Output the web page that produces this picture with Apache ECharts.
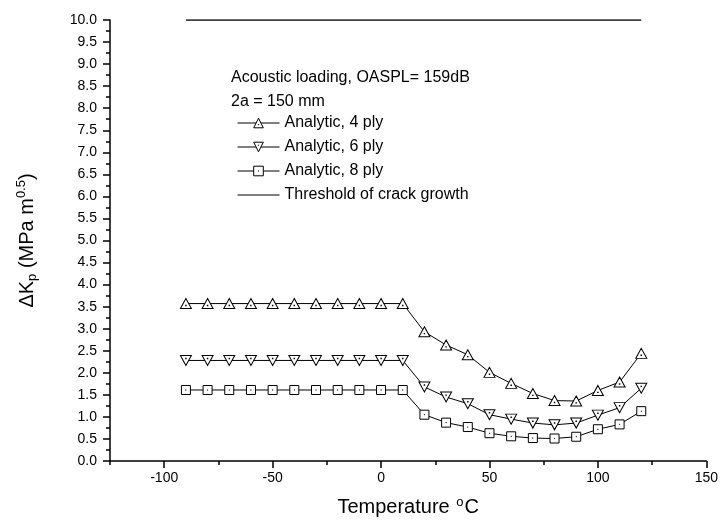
<!DOCTYPE html>
<html>
<head>
<meta charset="utf-8">
<script src="https://cdn.jsdelivr.net/npm/echarts@6/dist/echarts.min.js"></script>
<style>html,body{margin:0;padding:0;background:#fff}#c{width:721px;height:528px}</style>
</head>
<body>
<div id="c"></div>
<script>
var temps = [-90,-80,-70,-60,-50,-40,-30,-20,-10,0,10,20,30,40,50,60,70,80,90,100,110,120];
var ply4 = [3.57,3.57,3.57,3.57,3.57,3.57,3.57,3.57,3.57,3.57,3.57,2.93,2.63,2.41,2.01,1.76,1.53,1.37,1.36,1.60,1.79,2.44];
var ply6 = [2.28,2.28,2.28,2.28,2.28,2.28,2.28,2.28,2.28,2.28,2.28,1.68,1.45,1.30,1.05,0.95,0.86,0.82,0.86,1.04,1.21,1.65];
var ply8 = [1.61,1.61,1.61,1.61,1.61,1.61,1.61,1.61,1.61,1.61,1.61,1.05,0.87,0.77,0.63,0.56,0.52,0.51,0.55,0.72,0.83,1.13];
var thresholdX = [-90, 120];
var thresholdY = [10, 10];
var xMajorTicks = [-100, -50, 0, 50, 100, 150];
var xMinorTicks = [-125, -75, -25, 25, 75, 125];
var seriesNames = ['Analytic, 4 ply','Analytic, 6 ply','Analytic, 8 ply','Threshold of crack growth'];

function pairs(xs, ys){ return xs.map(function(x,i){ return [x, ys[i]]; }); }

var triUp = 'path://M5,0 L10,9 L0,9 Z M4.8,6 L5.2,6 L5.2,6.4 L4.8,6.4 Z';
var triDown = 'path://M0,0 L10,0 L5,9 Z M4.8,2.6 L5.2,2.6 L5.2,3 L4.8,3 Z';
var sq = 'path://M0,0 L10,0 L10,10 L0,10 Z M4.8,4.8 L5.2,4.8 L5.2,5.2 L4.8,5.2 Z';

function lineSeries(name, data, sym, size){
  return {
    name: name, type: 'line', data: data,
    symbol: sym, symbolSize: size, showAllSymbol: true,
    lineStyle: {color: '#000', width: 1},
    itemStyle: {color: '#fff', borderColor: '#000', borderWidth: 1},
    emphasis: {disabled: true}, animation: false
  };
}

var FONT = 'Liberation Sans, Arial';
var chart = echarts.init(document.getElementById('c'), null, {renderer: 'canvas'});
chart.setOption({
  backgroundColor: '#fff',
  animation: false,
  grid: {left: 110, right: 14, top: 20, bottom: 67, containLabel: false},
  title: {
    text: 'Acoustic loading, OASPL= 159dB\n2a = 150 mm',
    left: 226, top: 61,
    textStyle: {fontFamily: FONT, fontSize: 16, fontWeight: 'normal', color: '#000', lineHeight: 24}
  },
  legend: {
    orient: 'vertical', left: 232, top: 110, itemGap: 8,
    itemWidth: 42, itemHeight: 12,
    data: [
      {name: seriesNames[0]},
      {name: seriesNames[1]},
      {name: seriesNames[2]},
      {name: seriesNames[3], itemStyle: {opacity: 0}}
    ],
    itemStyle: {borderWidth: 1, borderColor: '#000'},
    lineStyle: {width: 1, color: '#000'},
    textStyle: {fontFamily: FONT, fontSize: 16, color: '#000'},
    selectedMode: false
  },
  xAxis: [{
    type: 'value', min: -125, max: 150,
    axisLine: {onZero: false, lineStyle: {color: '#000', width: 1.5}},
    axisTick: {show: true, length: 7, customValues: xMajorTicks, lineStyle: {color: '#000', width: 1.5}},
    splitLine: {show: false},
    axisLabel: {
      color: '#000', fontFamily: FONT, fontSize: 14, margin: 10, customValues: xMajorTicks
    },
    name: '{a|Temperature }{s|o}{a|C}',
    nameLocation: 'middle', nameGap: 35,
    nameTextStyle: {rich: {
      a: {fontFamily: FONT, fontSize: 20, color: '#000', verticalAlign: 'bottom'},
      s: {fontFamily: FONT, fontSize: 13, color: '#000', verticalAlign: 'top', padding: [0,1,8,1]}
    }}
  }, {
    type: 'value', min: -125, max: 150, position: 'bottom', gridIndex: 0,
    axisLine: {show: false, onZero: false},
    axisTick: {show: true, length: 4, customValues: xMinorTicks, lineStyle: {color: '#000', width: 1.5}},
    axisLabel: {show: false},
    splitLine: {show: false}
  }],
  yAxis: {
    type: 'value', min: 0, max: 10, interval: 0.5,
    axisLine: {onZero: false, lineStyle: {color: '#000', width: 1.5}},
    axisTick: {show: true, length: 7, lineStyle: {color: '#000', width: 1.5}},
    minorTick: {show: true, splitNumber: 2, length: 4, lineStyle: {color: '#000', width: 1.5}},
    splitLine: {show: false},
    axisLabel: {
      color: '#000', fontFamily: FONT, fontSize: 14, margin: 13,
      formatter: function(v){ return v.toFixed(1); }
    },
    name: '{a|ΔK}{b|p}{a| (MPa m}{c|0.5}{a|)}',
    nameLocation: 'middle', nameRotate: 90, nameGap: 70,
    nameTextStyle: {rich: {
      a: {fontFamily: FONT, fontSize: 20, color: '#000'},
      b: {fontFamily: FONT, fontSize: 13, color: '#000', padding: [10,0,0,0]},
      c: {fontFamily: FONT, fontSize: 13, color: '#000', padding: [0,0,12,0]}
    }}
  },
  series: [
    lineSeries(seriesNames[0], pairs(temps, ply4), triUp, [11,10]),
    lineSeries(seriesNames[1], pairs(temps, ply6), triDown, [11,10]),
    lineSeries(seriesNames[2], pairs(temps, ply8), sq, [9,9]),
    {
      name: seriesNames[3], type: 'line', data: pairs(thresholdX, thresholdY),
      symbol: 'none', lineStyle: {color: '#000', width: 1.5},
      itemStyle: {color: '#000'}, emphasis: {disabled: true}, animation: false
    }
  ]
});
</script>
</body>
</html>
